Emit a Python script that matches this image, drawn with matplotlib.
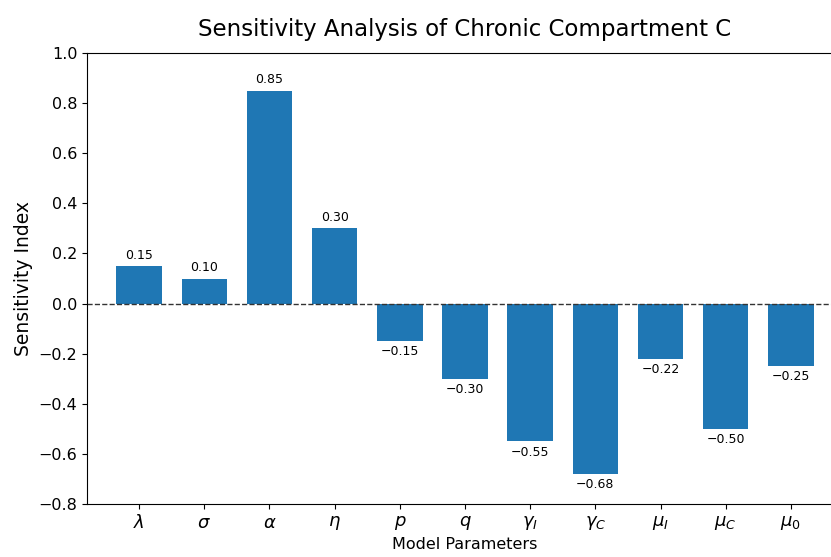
import matplotlib
matplotlib.use('Agg')
import matplotlib.pyplot as plt

params = [r'$\lambda$', r'$\sigma$', r'$\alpha$', r'$\eta$', r'$p$', r'$q$',
          r'$\gamma_I$', r'$\gamma_C$', r'$\mu_I$', r'$\mu_C$', r'$\mu_0$']
sensitivity = [0.15, 0.10, 0.85, 0.30, -0.15, -0.30, -0.55, -0.68, -0.22, -0.50, -0.25]

fig = plt.figure(figsize=(8.31, 5.57), dpi=100)
ax = fig.add_axes([87 / 831, (557 - 504) / 557, (843 - 87) / 831, (504 - 53) / 557])

x = range(len(params))
bars = ax.bar(x, sensitivity, width=0.7, color='#1f77b4')
ax.axhline(0, color='#333333', linestyle='--', linewidth=1)

for b, v in zip(bars, sensitivity):
    if v >= 0:
        ax.annotate(f'{v:.2f}', (b.get_x() + b.get_width() / 2, v), xytext=(0, 3),
                    textcoords='offset points', ha='center', va='bottom', fontsize=9)
    else:
        ax.annotate(f'{v:.2f}'.replace('-', '\u2212'), (b.get_x() + b.get_width() / 2, v), xytext=(0, -3),
                    textcoords='offset points', ha='center', va='top', fontsize=9)

ax.set_xticks(list(x))
ax.set_xticklabels(params, fontsize=13)
ax.set_xlim(-0.8, 10.8)
ax.set_ylim(-0.8, 1.0)
ax.tick_params(axis='y', labelsize=11.5)
ax.set_xlabel('Model Parameters', fontsize=11.5)
ax.set_ylabel('Sensitivity Index', fontsize=13.5)
ax.set_title('Sensitivity Analysis of Chronic Compartment C', fontsize=16.5, pad=12)

fig.savefig('out.png', dpi=100)
